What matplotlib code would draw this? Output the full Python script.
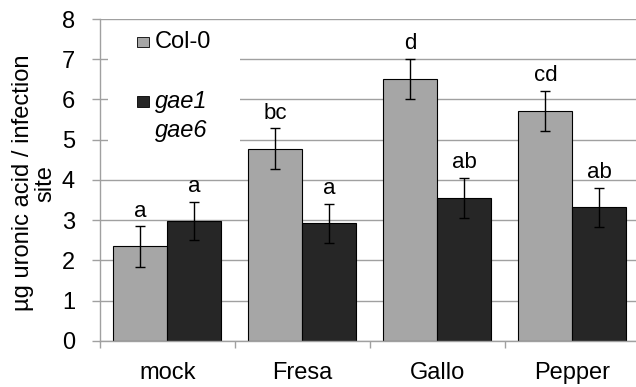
import matplotlib
matplotlib.use("Agg")
import matplotlib.pyplot as plt
from matplotlib.patches import Rectangle
import numpy as np

# Uronic acid per infection site, wild type vs. gae1 gae6 double mutant
treatments = ['mock', 'Fresa', 'Gallo', 'Pepper']
col0_mean = [2.35, 4.78, 6.51, 5.71]
col0_err = [0.50, 0.50, 0.50, 0.50]
gae_mean = [2.99, 2.92, 3.56, 3.32]
gae_err = [0.47, 0.48, 0.50, 0.48]
col0_letters = ['a', 'bc', 'd', 'cd']
gae_letters = ['a', 'a', 'ab', 'ab']

plt.rcParams['font.family'] = ['Liberation Sans', 'DejaVu Sans']

fig = plt.figure(figsize=(6.36, 3.87), dpi=100)
ax = fig.add_axes([0.1572, 0.1189, 0.849, 0.832])

x = np.arange(len(treatments))
w = 0.4
grey = '#a6a6a6'
dark = '#262626'
line_grey = '#a0a0a0'

ax.bar(x - w / 2, col0_mean, w, color=grey, edgecolor='black', linewidth=0.8, zorder=2)
ax.bar(x + w / 2, gae_mean, w, color=dark, edgecolor='black', linewidth=0.8, zorder=2)
ax.errorbar(x - w / 2, col0_mean, yerr=col0_err, fmt='none', ecolor='black',
            elinewidth=1.0, capsize=3.5, capthick=1.0, zorder=3)
ax.errorbar(x + w / 2, gae_mean, yerr=gae_err, fmt='none', ecolor='black',
            elinewidth=1.0, capsize=3.5, capthick=1.0, zorder=3)

# significance letters above the error bars
for xi, m, e, s in zip(x - w / 2, col0_mean, col0_err, col0_letters):
    ax.annotate(s, (xi, m + e), xytext=(0, 7), textcoords='offset points',
                ha='center', va='baseline', fontsize=16)
for xi, m, e, s in zip(x + w / 2, gae_mean, gae_err, gae_letters):
    ax.annotate(s, (xi, m + e), xytext=(0, 7), textcoords='offset points',
                ha='center', va='baseline', fontsize=16)

ax.set_xlim(-0.5, 3.5)
ax.set_ylim(0, 8)
ax.set_yticks(range(0, 9))
ax.yaxis.grid(True, color=line_grey, linewidth=1.0)
ax.set_axisbelow(True)

ax.set_xticks(x)
ax.set_xticklabels(treatments)
ax.set_xticks(np.arange(-0.5, 4.0, 1.0), minor=True)
ax.tick_params(axis='x', which='major', length=0, pad=15, labelsize=17)
ax.tick_params(axis='x', which='minor', length=5, width=1.0, color=line_grey)
ax.tick_params(axis='y', length=6, width=1.0, color=line_grey, pad=12, labelsize=17)

for side in ['top', 'right']:
    ax.spines[side].set_visible(False)
for side in ['left', 'bottom']:
    ax.spines[side].set_color(line_grey)
    ax.spines[side].set_linewidth(1.0)

ax.set_ylabel('µg uronic acid / infection\nsite', fontsize=17, linespacing=1.05)
ax.yaxis.set_label_coords(-0.08, 0.49)

# legend drawn on a white box that hides the grid lines behind it
ax.add_patch(Rectangle((0.015, 0.609), 0.244, 0.381, transform=ax.transAxes,
                       facecolor='white', edgecolor='none', zorder=1))
ax.add_patch(Rectangle((0.068, 0.912), 0.022, 0.033, transform=ax.transAxes,
                       facecolor=grey, edgecolor='black', linewidth=0.6, zorder=4))
ax.add_patch(Rectangle((0.068, 0.727), 0.022, 0.033, transform=ax.transAxes,
                       facecolor=dark, edgecolor='black', linewidth=0.6, zorder=4))
ax.text(0.102, 0.928, 'Col-0', transform=ax.transAxes, fontsize=17,
        va='center', ha='left', zorder=4)
ax.text(0.102, 0.743, 'gae1', transform=ax.transAxes, fontsize=17,
        va='center', ha='left', style='italic', zorder=4)
ax.text(0.102, 0.653, 'gae6', transform=ax.transAxes, fontsize=17,
        va='center', ha='left', style='italic', zorder=4)

fig.savefig('out.png', dpi=100)
